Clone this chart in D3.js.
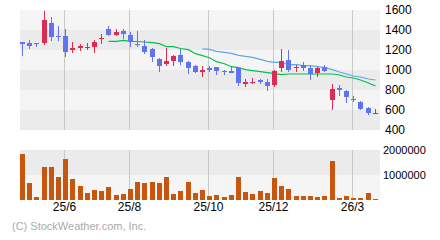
<!DOCTYPE html>
<html><head><meta charset="utf-8">
<script src="https://cdn.jsdelivr.net/npm/d3@7"></script>
<style>body{margin:0;background:#fff}svg{display:block}</style>
</head><body><svg id="c" width="440" height="240"></svg>
<script>
// weekly candles: open, high, low, close (KRW)
const opens  = [1280,1270,1270,1273,1470,1343,1340,1203,1223,1220,1233,1313,1410,1353,1390,1350,1263,1240,1210,1110,1063,1093,1150,1080,1040,983,1023,1030,993,993,1020,863,873,903,883,853,1023,1100,1020,1050,1020,970,1030,700,820,790,710,680,620,560];
const highs  = [1280,1300,1270,1590,1530,1440,1410,1280,1260,1270,1300,1360,1440,1410,1410,1380,1390,1300,1220,1120,1220,1150,1210,1090,1050,1040,1040,1030,1003,1033,1033,913,923,913,913,1003,1210,1200,1050,1080,1040,1030,1050,860,850,800,740,690,630,610];
const lows   = [1143,1213,1233,1253,1293,1293,1133,1173,1193,1203,1173,1263,1343,1343,1313,1233,1233,1163,1083,983,1043,1043,1053,963,973,933,983,953,953,973,843,833,863,863,793,833,983,980,980,990,900,930,980,600,740,670,680,600,550,560];
const closes = [1263,1243,1263,1500,1333,1333,1183,1220,1240,1230,1280,1320,1353,1380,1363,1293,1253,1183,1127,1043,1090,1140,1083,1023,983,1000,1003,993,983,973,873,883,883,883,843,993,1090,1000,1030,1020,960,1020,990,810,800,730,697,610,570,570];
// weekly volume (shares)
const volumes = [1840000,680000,120000,1330000,1330000,920000,1640000,840000,560000,290000,400000,360000,520000,210000,250000,440000,720000,680000,720000,680000,920000,240000,360000,720000,280000,400000,160000,200000,120000,200000,920000,320000,240000,360000,280000,880000,560000,440000,160000,160000,160000,120000,160000,1560000,80000,160000,80000,80000,280000,40000];
// moving averages (start index, values)
const ma13Start = 12;
const ma13 = [1287,1287,1297,1287,1285,1280,1273,1263,1233,1233,1215,1203,1163,1143,1123,1083,1063,1033,1023,1003,993,983,973,963,953,960,960,960,960,960,960,960,950,930,920,900,870,840];
const ma26Start = 25;
const ma26 = [1212,1207,1187,1177,1167,1147,1137,1127,1107,1087,1077,1077,1053,1053,1043,1043,1033,1023,1003,980,960,940,930,910,900];
// x-axis month ticks (candle index, label)
const tickIdx = [6,15,26,35,46];
const tickLabels = ["25/6","25/8","25/10","25/12","26/3"];
const priceTicks = [400,600,800,1000,1200,1400,1600];
const volTicks = [1000000,2000000];

const svg = d3.select("#c");
const idx = d3.range(opens.length);
const x = d3.scaleBand().domain(idx).range([20,380]).paddingInner(0.3).paddingOuter(0.15).align(0);
const y = d3.scaleLinear().domain([400,1600]).range([130,10]);
const yv = d3.scaleLinear().domain([0,2000000]).range([200,150]);
const FONT = "Liberation Sans, Arial, sans-serif";
const RED = "#dc2c52", BLUE = "#5f74f4";

svg.append("rect").attr("width",440).attr("height",240).attr("fill","#fff");

// price bands
const pb = svg.append("g");
for (let k=0;k<priceTicks.length-1;k++){
  const lo = priceTicks[k], hi = priceTicks[k+1];
  pb.append("rect").attr("x",20).attr("width",360)
    .attr("y",y(hi)).attr("height",y(lo)-y(hi))
    .attr("fill", k%2===0 ? "#ebebeb" : "#f5f5f5");
}
// volume bands
svg.append("rect").attr("x",20).attr("width",360).attr("y",yv(2000000)).attr("height",yv(1000000)-yv(2000000)).attr("fill","#ebebeb");
svg.append("rect").attr("x",20).attr("width",360).attr("y",yv(1000000)).attr("height",yv(0)-yv(1000000)).attr("fill","#f5f5f5");

// vertical gridlines
const gx = i => Math.round(x(i)+1)+0.5;
const gg = svg.append("g").attr("stroke","#c8c8c8").attr("stroke-width",1);
tickIdx.forEach(i=>{
  gg.append("line").attr("x1",gx(i)).attr("x2",gx(i)).attr("y1",10).attr("y2",130);
  gg.append("line").attr("x1",gx(i)).attr("x2",gx(i)).attr("y1",150).attr("y2",200);
});

// volume bars
svg.append("g").selectAll("rect").data(idx).join("rect")
  .attr("x",i=>Math.round(x(i))).attr("width",5)
  .attr("y",i=>Math.round(yv(volumes[i]))).attr("height",i=>200-Math.round(yv(volumes[i])))
  .attr("fill","#c8560f");

// moving averages
const cx = i => Math.round(x(i))+2.5;
const line = d3.line().x(d=>cx(d[0])).y(d=>y(d[1]));
svg.append("path").datum(ma26.map((v,k)=>[ma26Start+k,v])).attr("d",line)
  .attr("fill","none").attr("stroke","#5aa8f0").attr("stroke-width",1.2);
svg.append("path").datum(ma13.map((v,k)=>[ma13Start+k,v])).attr("d",line)
  .attr("fill","none").attr("stroke","#00c050").attr("stroke-width",1.2);

// candles
const cg = svg.append("g").attr("shape-rendering","crispEdges");
idx.forEach(i=>{
  const up = closes[i] >= opens[i];
  const col = up ? RED : BLUE;
  const L = Math.round(x(i));
  cg.append("rect").attr("x",L+2).attr("width",1)
    .attr("y",Math.round(y(highs[i]))).attr("height",Math.max(1,Math.round(y(lows[i]))-Math.round(y(highs[i]))))
    .attr("fill",col);
  const t = Math.round(y(Math.max(opens[i],closes[i]))), b = Math.round(y(Math.min(opens[i],closes[i])));
  cg.append("rect").attr("x",L).attr("width",5).attr("y",t).attr("height",Math.max(1,b-t)).attr("fill",col);
});

// price labels
svg.append("g").selectAll("text").data(priceTicks).join("text")
  .attr("x",385).attr("y",d=>y(d)).attr("dy","0.36em")
  .attr("font-family",FONT).attr("font-size",12).attr("fill","#000").text(d=>d);
// volume labels
svg.append("g").selectAll("text").data(volTicks).join("text")
  .attr("x",383).attr("y",d=>yv(d)).attr("dy","0.36em")
  .attr("font-family",FONT).attr("font-size",11).attr("fill","#000").text(d=>d);
// x labels
svg.append("g").selectAll("text").data(tickIdx).join("text")
  .attr("x",i=>gx(i)).attr("y",211).attr("text-anchor","middle")
  .attr("font-family",FONT).attr("font-size",12).attr("fill","#000").text((d,k)=>tickLabels[k]);
// copyright
svg.append("text").attr("x",12).attr("y",229.5).attr("font-family",FONT).attr("font-size",11)
  .attr("fill","#aaaaaa").text("(C) StockWeather.com, Inc.");
</script></body></html>
